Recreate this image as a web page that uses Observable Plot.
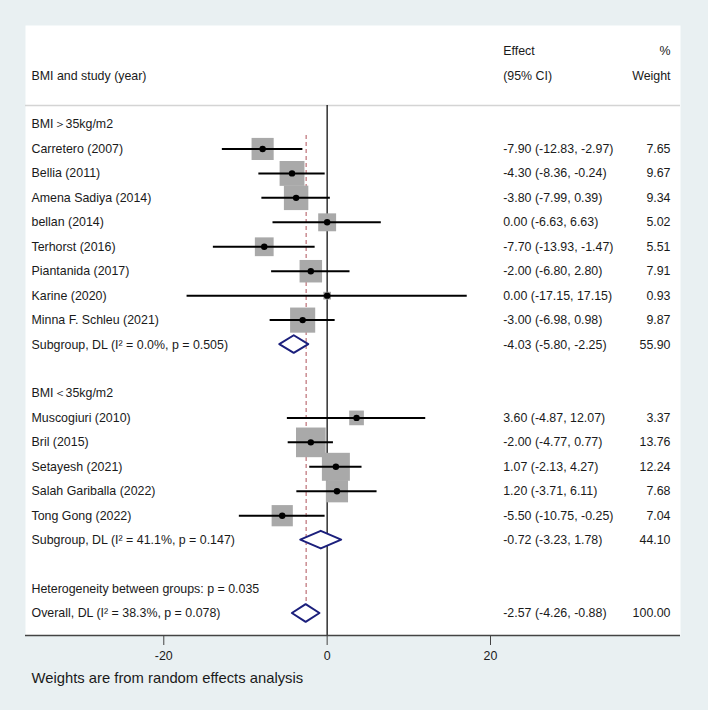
<!DOCTYPE html>
<html>
<head>
<meta charset="utf-8">
<script src="https://cdn.jsdelivr.net/npm/d3@7"></script>
<script src="https://cdn.jsdelivr.net/npm/@observablehq/plot@0.6"></script>
<style>
  html, body { margin: 0; padding: 0; background: #e9f0f2; }
  #chart { width: 708px; height: 710px; }
</style>
</head>
<body>
<div id="chart"></div>
<script>
// ---- data ----
const groupLabels = ["BMI＞35kg/m2", "BMI＜35kg/m2"];
const studies = [
  "Carretero (2007)", "Bellia (2011)", "Amena Sadiya (2014)", "bellan (2014)",
  "Terhorst (2016)", "Piantanida (2017)", "Karine (2020)", "Minna F. Schleu (2021)",
  "Muscogiuri (2010)", "Bril (2015)", "Setayesh (2021)", "Salah Gariballa (2022)", "Tong Gong (2022)"
];
const studyGroup = [0,0,0,0,0,0,0,0,1,1,1,1,1];
const effect = [-7.90, -4.30, -3.80, 0.00, -7.70, -2.00, 0.00, -3.00, 3.60, -2.00, 1.07, 1.20, -5.50];
const lower  = [-12.83, -8.36, -7.99, -6.63, -13.93, -6.80, -17.15, -6.98, -4.87, -4.77, -2.13, -3.71, -10.75];
const upper  = [-2.97, -0.24, 0.39, 6.63, -1.47, 2.80, 17.15, 0.98, 12.07, 0.77, 4.27, 6.11, -0.25];
const weight = [7.65, 9.67, 9.34, 5.02, 5.51, 7.91, 0.93, 9.87, 3.37, 13.76, 12.24, 7.68, 7.04];

const subgroupLabels = ["Subgroup, DL (I² = 0.0%, p = 0.505)", "Subgroup, DL (I² = 41.1%, p = 0.147)"];
const subEffect = [-4.03, -0.72];
const subLower  = [-5.80, -3.23];
const subUpper  = [-2.25, 1.78];
const subWeight = [55.90, 44.10];

const heterogeneityLabel = "Heterogeneity between groups: p = 0.035";
const overallLabel = "Overall, DL (I² = 38.3%, p = 0.078)";
const overallEffect = -2.57, overallLower = -4.26, overallUpper = -0.88, overallWeight = 100.00;

const xTicks = [-20, 0, 20];
const headerLeft = "BMI and study (year)";
const headerEffect = ["Effect", "(95% CI)"];
const headerWeight = ["%", "Weight"];
const footnote = "Weights are from random effects analysis";

// ---- layout rows ----
const rows = [];     // text rows (left labels)
const studyRows = [];
const summaryRows = [];
let r = 0;
for (let g = 0; g < groupLabels.length; g++) {
  rows.push({row: r, label: groupLabels[g]}); r++;
  studies.forEach((s, i) => {
    if (studyGroup[i] !== g) return;
    const d = {row: r, label: s, es: effect[i], lo: lower[i], hi: upper[i], w: weight[i]};
    rows.push(d); studyRows.push(d); r++;
  });
  const sd = {row: r, label: subgroupLabels[g], es: subEffect[g], lo: subLower[g], hi: subUpper[g], w: subWeight[g]};
  rows.push(sd); summaryRows.push(sd); r++;
  r++; // blank
}
rows.push({row: r, label: heterogeneityLabel}); r++;
const od = {row: r, label: overallLabel, es: overallEffect, lo: overallLower, hi: overallUpper, w: overallWeight};
rows.push(od); summaryRows.push(od);

const fmt = v => v.toFixed(2);
const numRows = rows.filter(d => d.es !== undefined).map(d => ({
  row: d.row,
  ci: `${fmt(d.es)} (${fmt(d.lo)}, ${fmt(d.hi)})`,
  wt: fmt(d.w)
}));

const H = 0.36; // diamond half-height in rows
const diamondPts = summaryRows.flatMap((d, k) => [
  {z: k, y: d.row - H, x1: d.es, x2: d.es},
  {z: k, y: d.row,     x1: d.lo, x2: d.hi},
  {z: k, y: d.row + H, x1: d.es, x2: d.es}
]);

const Y_TOP = -4.05, Y_BOTTOM = 20.9, SEP = -0.78;
const FONT = 12.4;
const txt = "#1a1a1a";

const chart = Plot.plot({
  width: 708,
  height: 710,
  marginTop: 25,
  marginRight: 28,
  marginBottom: 75,
  marginLeft: 25,
  style: {background: "#e9f0f2", fontFamily: "'Liberation Sans', Arial, sans-serif", color: txt},
  x: {domain: [-36.93, 43.26]},
  y: {domain: [Y_BOTTOM, Y_TOP], axis: null},
  r: {type: "sqrt", domain: [0, 16], range: [0, 18.05]},
  marks: [
    Plot.frame({fill: "white", stroke: "none"}),
    // header separator
    Plot.ruleY([SEP], {stroke: "#d4d4d4", strokeWidth: 1.5}),
    // header texts
    Plot.text([headerLeft], {y: -2, frameAnchor: "left", textAnchor: "start", dx: 6, fontSize: FONT, fill: txt}),
    Plot.text(headerEffect, {y: (d, i) => i - 3, frameAnchor: "right", textAnchor: "start", dx: -177.3, fontSize: FONT, fill: txt}),
    Plot.text(headerWeight, {y: (d, i) => i - 3, frameAnchor: "right", textAnchor: "end", dx: -10, fontSize: FONT, fill: txt}),
    // zero line
    Plot.ruleX([0], {y1: SEP, y2: Y_BOTTOM, stroke: "#111", strokeWidth: 1.3}),
    // overall dashed line
    Plot.ruleX([overallEffect], {y1: 0.45, y2: 20.4, stroke: "#c27a80", strokeWidth: 1.3, strokeDasharray: "4,3"}),
    // weight squares
    Plot.dot(studyRows, {x: "es", y: "row", r: "w", symbol: "square", fill: "#a9a9a9", stroke: "none"}),
    // CI lines
    Plot.ruleY(studyRows, {y: "row", x1: "lo", x2: "hi", stroke: "black", strokeWidth: 2}),
    // point estimates
    Plot.dot(studyRows, {x: "es", y: "row", r: 3.2, fill: "black", stroke: "none"}),
    // diamonds
    Plot.areaX(diamondPts, {y: "y", x1: "x1", x2: "x2", z: "z", fill: "white", stroke: "#1b1f7c", strokeWidth: 2}),
    // left labels
    Plot.text(rows, {y: "row", text: "label", frameAnchor: "left", textAnchor: "start", dx: 6, fontSize: FONT, fill: txt}),
    // effect column
    Plot.text(numRows, {y: "row", text: "ci", frameAnchor: "right", textAnchor: "start", dx: -177.3, fontSize: FONT, fill: txt}),
    // weight column
    Plot.text(numRows, {y: "row", text: "wt", frameAnchor: "right", textAnchor: "end", dx: -10, fontSize: FONT, fill: txt}),
    // x axis line
    Plot.ruleY([Y_BOTTOM], {stroke: "#444", strokeWidth: 1.3}),
    Plot.axisX({ticks: xTicks, tickSize: 10, tickPadding: 6, fontSize: FONT, label: null, stroke: "#444", color: txt, tickFormat: d => String(d).replace("−", "-")}),
    // footnote
    Plot.text([footnote], {frameAnchor: "bottom-left", textAnchor: "start", dx: 6, dy: 47, fontSize: 14.8, fill: txt})
  ]
});
document.getElementById("chart").appendChild(chart);
</script>
</body>
</html>
